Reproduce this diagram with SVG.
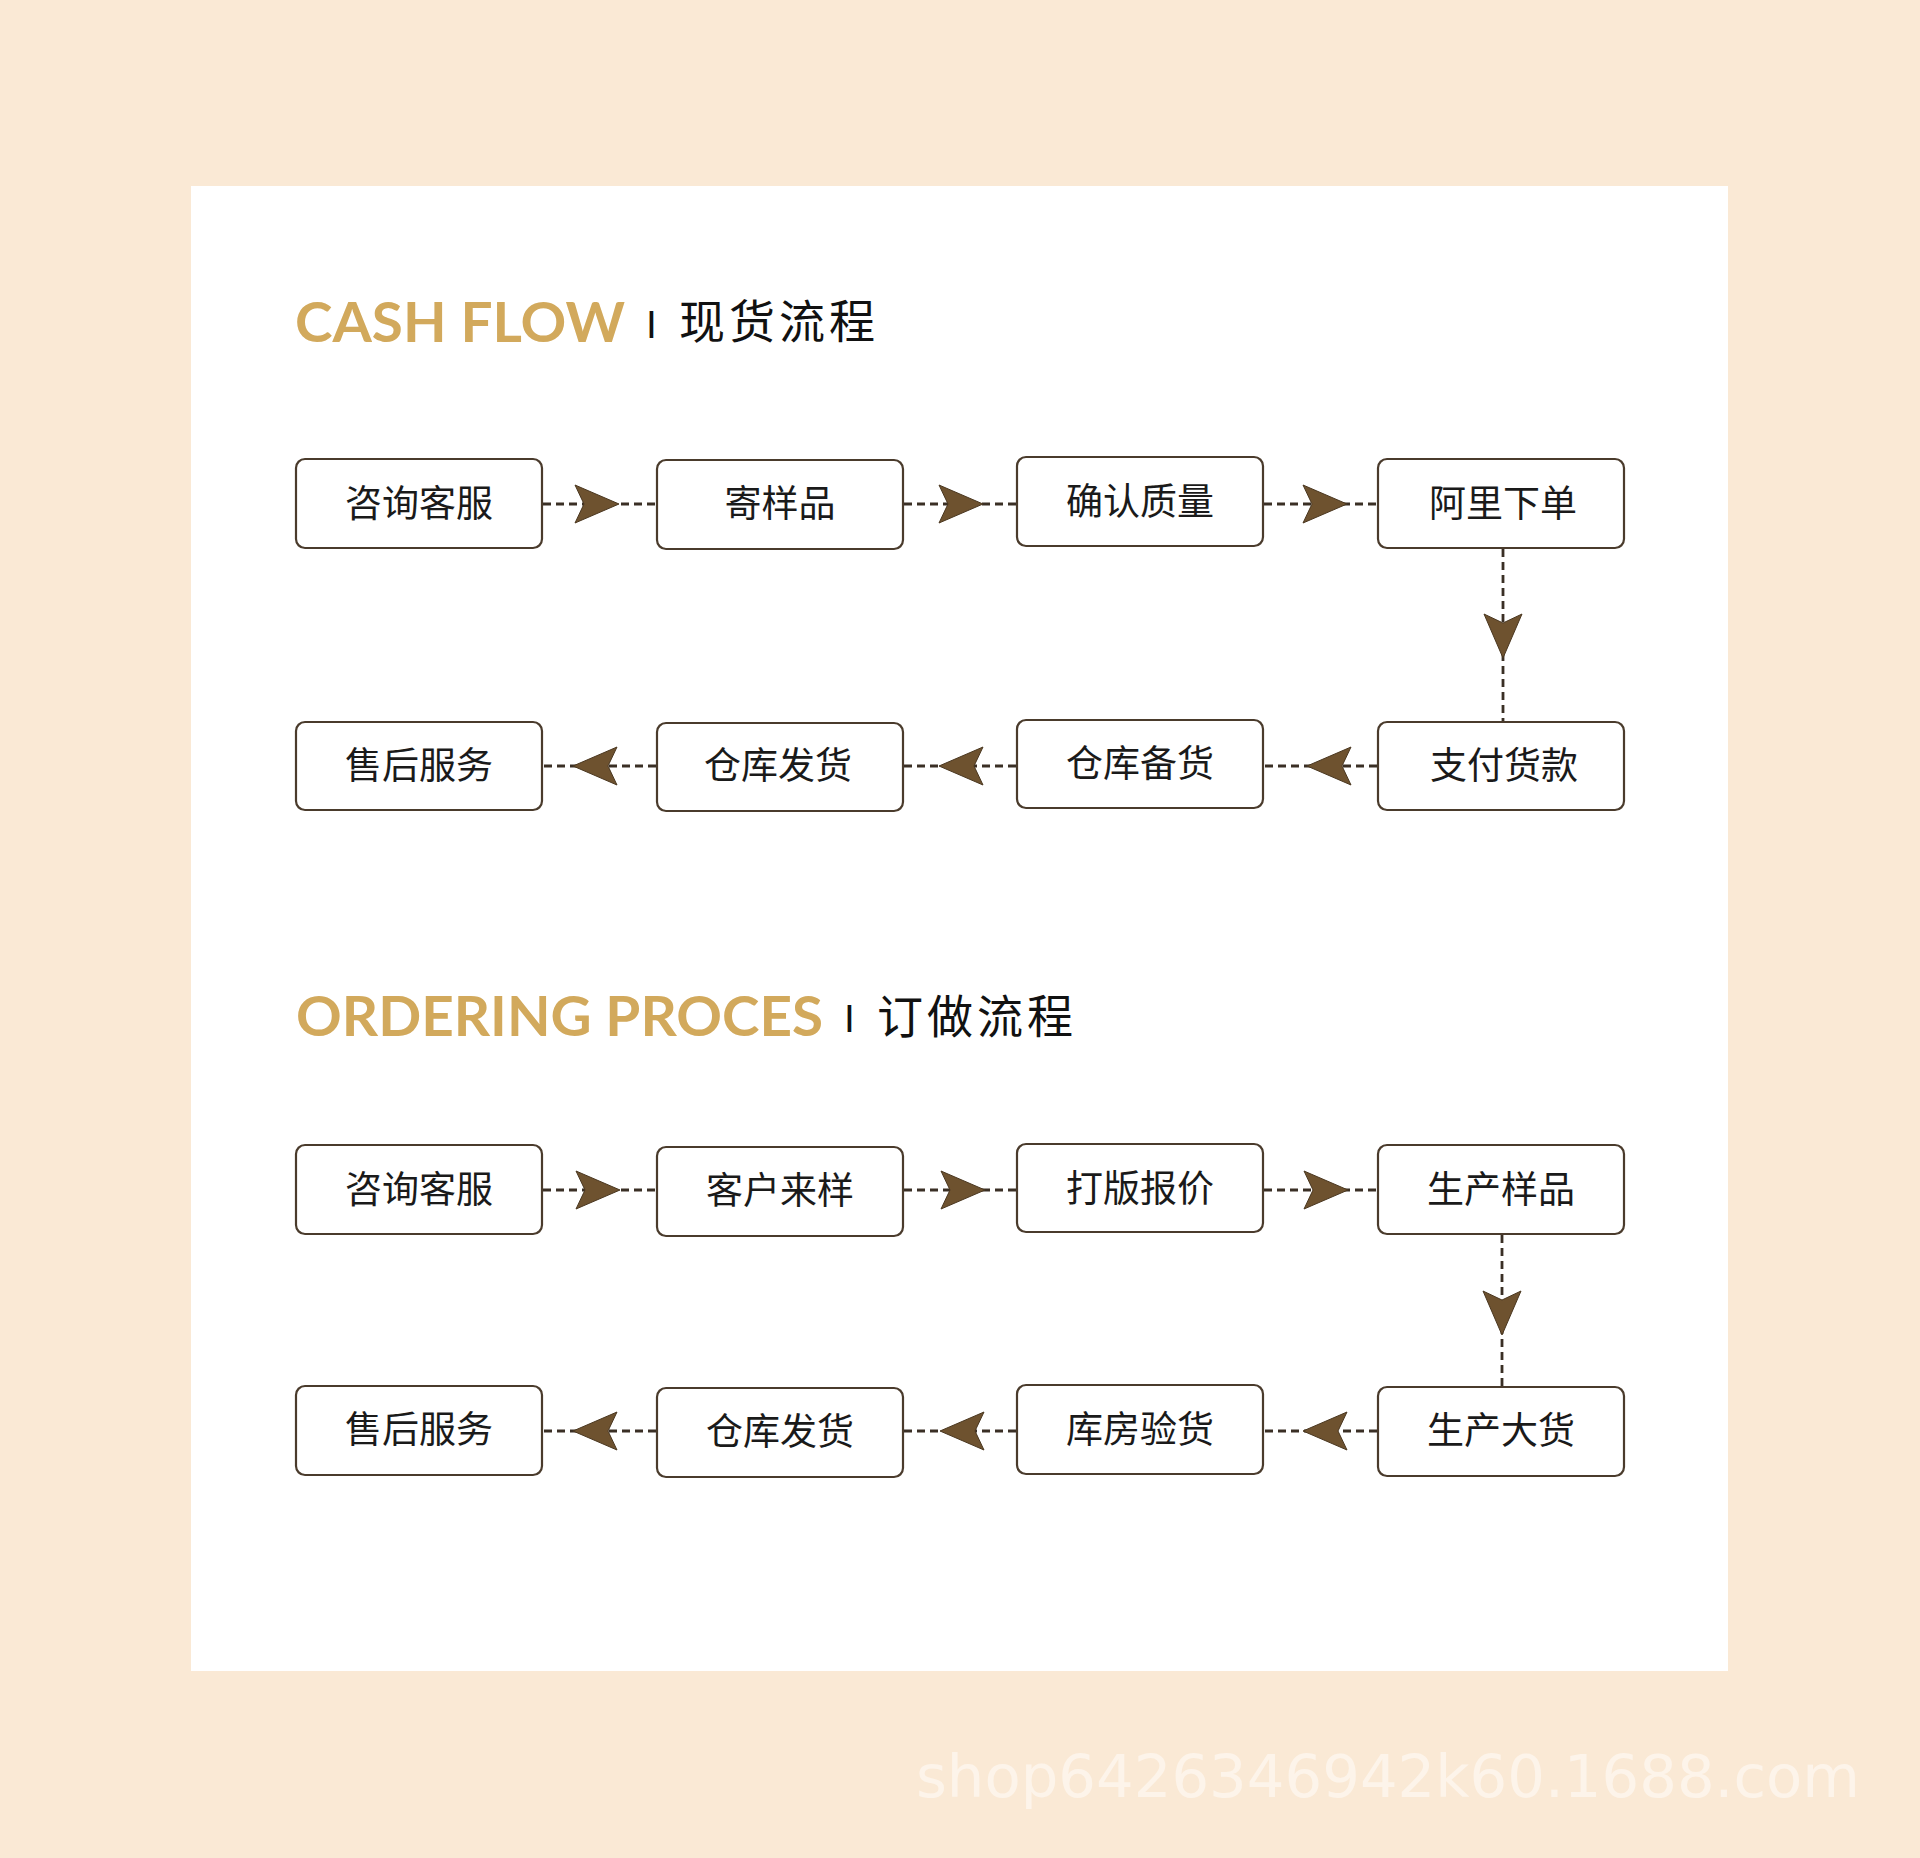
<svg xmlns="http://www.w3.org/2000/svg" xmlns:xlink="http://www.w3.org/1999/xlink" width="1920" height="1858" viewBox="0 0 1920 1858">
<defs>
<style>
.bg{fill:#FAE9D5}
.panel{fill:#FFFFFF}
.title{font-family:Lato,"Liberation Sans",sans-serif;font-weight:700;font-size:56px;fill:#D2A95C}
.sep{font-family:"Liberation Sans",sans-serif;font-weight:400;font-size:39px;fill:#111}
.ctitle{font-family:"Noto Sans CJK SC","Noto Sans",sans-serif;font-size:46px;fill:#111;letter-spacing:4px}
.box rect{fill:#FFFFFF;stroke:#4A3B2C;stroke-width:2.2}
.box text{font-family:"Noto Sans CJK SC","Noto Sans",sans-serif;font-size:37px;fill:#1A1A1A;text-anchor:middle}
.dash{stroke:#3A2F25;stroke-width:2.8;stroke-dasharray:8 5;fill:none}
.ah{fill:#6E522F;stroke:#4A3720;stroke-width:1}
.wm{font-family:"DejaVu Sans",sans-serif;font-size:59px;fill:#FDF4EA}
</style>
<path id="ah" d="M0,0 L-44,-19 L-35,0 L-44,19 Z"/>
</defs>
<rect class="bg" x="0" y="0" width="1920" height="1858"/>
<rect class="panel" x="191" y="186" width="1537" height="1485"/>

<g id="title-cash">
<text class="title" x="295" y="342" textLength="330" lengthAdjust="spacingAndGlyphs">CASH FLOW</text>
<text class="sep" x="646" y="338">I</text>
<text class="ctitle" x="679" y="338">现货流程</text>
</g>
<g id="title-order">
<text class="title" x="296" y="1036" textLength="527" lengthAdjust="spacingAndGlyphs">ORDERING PROCES</text>
<text class="sep" x="844" y="1032">I</text>
<text class="ctitle" x="877" y="1033">订做流程</text>
</g>

<g id="connectors">
<line class="dash" x1="543" y1="504" x2="656" y2="504"/>
<line class="dash" x1="904" y1="504" x2="1016" y2="504"/>
<line class="dash" x1="1264" y1="504" x2="1377" y2="504"/>
<line class="dash" x1="1503" y1="549" x2="1503" y2="721"/>
<line class="dash" x1="1377" y1="766" x2="1264" y2="766"/>
<line class="dash" x1="1016" y1="766" x2="904" y2="766"/>
<line class="dash" x1="656" y1="766" x2="543" y2="766"/>
<line class="dash" x1="543" y1="1190" x2="656" y2="1190"/>
<line class="dash" x1="904" y1="1190" x2="1016" y2="1190"/>
<line class="dash" x1="1264" y1="1190" x2="1377" y2="1190"/>
<line class="dash" x1="1502" y1="1235" x2="1502" y2="1386"/>
<line class="dash" x1="1377" y1="1431" x2="1264" y2="1431"/>
<line class="dash" x1="1016" y1="1431" x2="904" y2="1431"/>
<line class="dash" x1="656" y1="1431" x2="543" y2="1431"/>

<use class="ah" xlink:href="#ah" href="#ah" transform="translate(619,504)"/>
<use class="ah" xlink:href="#ah" href="#ah" transform="translate(983,504)"/>
<use class="ah" xlink:href="#ah" href="#ah" transform="translate(1347,504)"/>
<use class="ah" xlink:href="#ah" href="#ah" transform="translate(1503,658) rotate(90)"/>
<use class="ah" xlink:href="#ah" href="#ah" transform="translate(1307,766) rotate(180)"/>
<use class="ah" xlink:href="#ah" href="#ah" transform="translate(939,766) rotate(180)"/>
<use class="ah" xlink:href="#ah" href="#ah" transform="translate(573,766) rotate(180)"/>
<use class="ah" xlink:href="#ah" href="#ah" transform="translate(620,1190)"/>
<use class="ah" xlink:href="#ah" href="#ah" transform="translate(985,1190)"/>
<use class="ah" xlink:href="#ah" href="#ah" transform="translate(1348,1190)"/>
<use class="ah" xlink:href="#ah" href="#ah" transform="translate(1502,1335) rotate(90)"/>
<use class="ah" xlink:href="#ah" href="#ah" transform="translate(1303,1431) rotate(180)"/>
<use class="ah" xlink:href="#ah" href="#ah" transform="translate(940,1431) rotate(180)"/>
<use class="ah" xlink:href="#ah" href="#ah" transform="translate(573,1431) rotate(180)"/>
</g>

<g id="n1" class="box"><rect x="296" y="459" width="246" height="89" rx="9"/><text x="419" y="517">咨询客服</text></g>
<g id="n2" class="box"><rect x="657" y="460" width="246" height="89" rx="9"/><text x="780" y="517">寄样品</text></g>
<g id="n3" class="box"><rect x="1017" y="457" width="246" height="89" rx="9"/><text x="1140" y="515">确认质量</text></g>
<g id="n4" class="box"><rect x="1378" y="459" width="246" height="89" rx="9"/><text x="1503" y="517">阿里下单</text></g>

<g id="n5" class="box"><rect x="1378" y="722" width="246" height="88" rx="9"/><text x="1504" y="779">支付货款</text></g>
<g id="n6" class="box"><rect x="1017" y="720" width="246" height="88" rx="9"/><text x="1140" y="777">仓库备货</text></g>
<g id="n7" class="box"><rect x="657" y="723" width="246" height="88" rx="9"/><text x="778" y="779">仓库发货</text></g>
<g id="n8" class="box"><rect x="296" y="722" width="246" height="88" rx="9"/><text x="419" y="779">售后服务</text></g>

<g id="m1" class="box"><rect x="296" y="1145" width="246" height="89" rx="9"/><text x="419" y="1203">咨询客服</text></g>
<g id="m2" class="box"><rect x="657" y="1147" width="246" height="89" rx="9"/><text x="780" y="1204">客户来样</text></g>
<g id="m3" class="box"><rect x="1017" y="1144" width="246" height="88" rx="9"/><text x="1140" y="1202">打版报价</text></g>
<g id="m4" class="box"><rect x="1378" y="1145" width="246" height="89" rx="9"/><text x="1501" y="1203">生产样品</text></g>

<g id="m5" class="box"><rect x="1378" y="1387" width="246" height="89" rx="9"/><text x="1501" y="1444">生产大货</text></g>
<g id="m6" class="box"><rect x="1017" y="1385" width="246" height="89" rx="9"/><text x="1140" y="1443">库房验货</text></g>
<g id="m7" class="box"><rect x="657" y="1388" width="246" height="89" rx="9"/><text x="780" y="1445">仓库发货</text></g>
<g id="m8" class="box"><rect x="296" y="1386" width="246" height="89" rx="9"/><text x="419" y="1443">售后服务</text></g>

<text class="wm" x="916" y="1797" textLength="944" lengthAdjust="spacingAndGlyphs">shop6426346942k60.1688.com</text>
</svg>
